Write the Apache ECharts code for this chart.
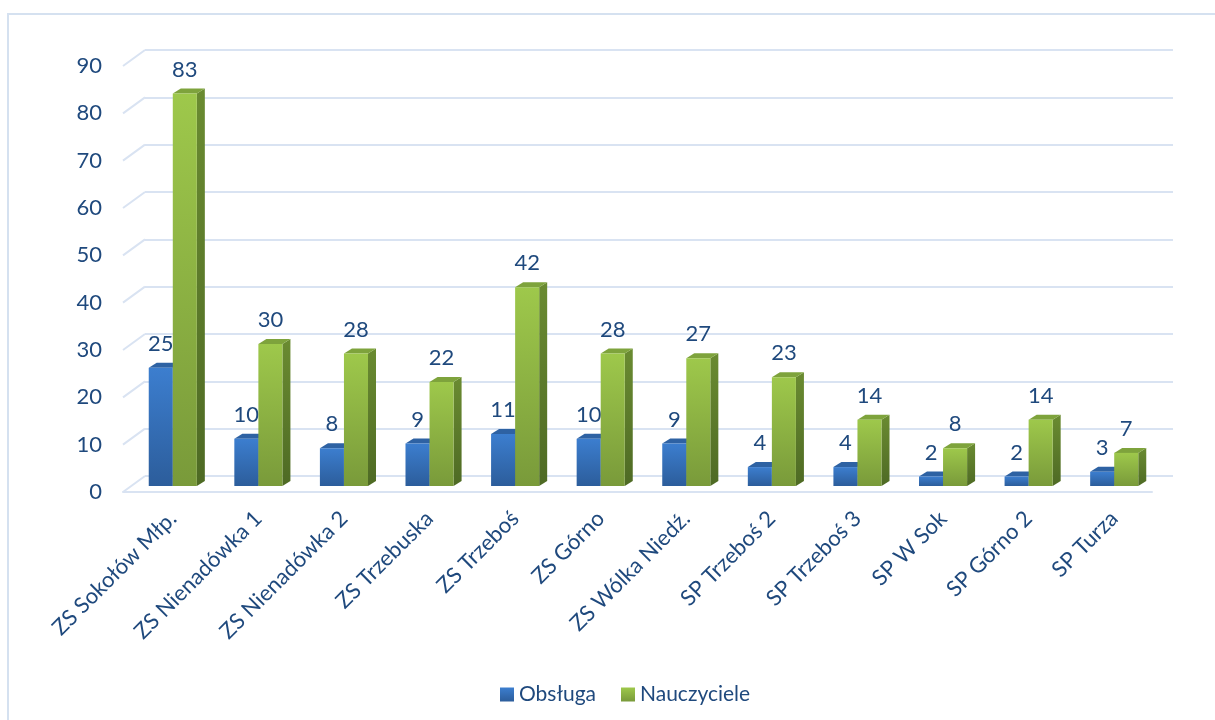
<!DOCTYPE html>
<html><head><meta charset="utf-8">
<script src="https://cdn.jsdelivr.net/npm/echarts@6/dist/echarts.min.js"></script>
<style>html,body{margin:0;padding:0;background:#fff}#c{width:1215px;height:720px}</style>
</head><body><div id="c"></div>
<script>
const categories = ['ZS Sokołów Młp.', 'ZS Nienadówka 1', 'ZS Nienadówka 2', 'ZS Trzebuska', 'ZS Trzeboś', 'ZS Górno', 'ZS Wólka Niedź.', 'SP Trzeboś 2', 'SP Trzeboś 3', 'SP W Sok', 'SP Górno 2', 'SP Turza'];
const obsluga = [25, 10, 8, 9, 11, 10, 9, 4, 4, 2, 2, 3];
const nauczyciele = [83, 30, 28, 22, 42, 28, 27, 23, 14, 8, 14, 7];
const seriesNames = ['Obsługa', 'Nauczyciele'];
const yTicks = [0, 10, 20, 30, 40, 50, 60, 70, 80, 90];

const FONT = 'Lato';
const TXT = '#1F497D';
const GRIDC = '#D9E3F2';
const DX = 8, DY = -5;     // bar depth
const WX = 22, WY = -16;   // wall depth
const LG = echarts.graphic.LinearGradient;

const bluePal = {
  front: new LG(0, 0, 0, 1, [{offset: 0, color: '#3C7ECF'}, {offset: 1, color: '#2C5D9B'}]),
  top: '#2E62A3',
  side: new LG(0, 0, 0, 1, [{offset: 0, color: '#2A5894'}, {offset: 1, color: '#1F4272'}]),
  legend: new LG(0, 0, 0, 1, [{offset: 0, color: '#3C7ECF'}, {offset: 1, color: '#2C5D9B'}])
};
const greenPal = {
  front: new LG(0, 0, 0, 1, [{offset: 0, color: '#9EC84B'}, {offset: 1, color: '#799A3A'}]),
  top: '#7EA33C',
  side: new LG(0, 0, 0, 1, [{offset: 0, color: '#6A8B31'}, {offset: 1, color: '#4E6A24'}]),
  legend: new LG(0, 0, 0, 1, [{offset: 0, color: '#9EC84B'}, {offset: 1, color: '#799A3A'}])
};

function bar3d(side, pal) {
  return function (params, api) {
    const idx = api.value(0), val = api.value(1);
    const base = api.coord([idx, 0]);
    const top = api.coord([idx, val]);
    const bw = api.size([1, 0])[0] * 0.281;
    const x0 = side === 0 ? base[0] - bw : base[0];
    const x1 = x0 + bw;
    const y0 = base[1], y1 = top[1];
    return {
      type: 'group', children: [
        {type: 'polygon', shape: {points: [[x1, y1], [x1 + DX, y1 + DY], [x1 + DX, y0 + DY], [x1, y0]]}, style: {fill: pal.side}},
        {type: 'polygon', shape: {points: [[x0, y1], [x0 + DX, y1 + DY], [x1 + DX, y1 + DY], [x1, y1]]}, style: {fill: pal.top}},
        {type: 'rect', shape: {x: x0, y: y1, width: bw, height: y0 - y1}, style: {fill: pal.front}},
        {type: 'text', style: {text: String(val), x: (x0 + x1) / 2, y: y1 - 24, align: 'center', verticalAlign: 'middle', fontSize: 22, fontFamily: FONT, fill: TXT}}
      ]
    };
  };
}

const chart = echarts.init(document.getElementById('c'));
chart.setOption({
  animation: false,
  backgroundColor: '#fff',
  graphic: [{type: 'rect', silent: true, z: -10, shape: {x: 8, y: 14, width: 1400, height: 900}, style: {fill: 'none', stroke: '#D5E1F0', lineWidth: 2}}],
  grid: [
    {left: 130, right: 58, top: 60.3, bottom: 234},
    {left: 145, right: 42, top: 50, bottom: 244},
    {left: 123, right: 63, top: 66, bottom: 228}
  ],
  xAxis: [
    {type: 'category', gridIndex: 0, data: categories, axisLine: {show: false}, axisTick: {show: false},
      axisLabel: {rotate: 45, margin: 29, fontSize: 22, color: TXT, fontFamily: FONT, interval: 0}},
    {type: 'value', gridIndex: 1, min: 0, max: 1, show: false},
    {type: 'value', gridIndex: 2, min: 0, max: 1, axisLine: {show: true, lineStyle: {color: GRIDC, width: 2}},
      axisTick: {show: false}, axisLabel: {show: false}, splitLine: {show: false}}
  ],
  yAxis: [
    {type: 'value', gridIndex: 0, min: 0, max: 90, interval: 10, show: false},
    {type: 'value', gridIndex: 1, min: 0, max: 90, interval: 10, axisLine: {show: false}, axisTick: {show: false},
      axisLabel: {show: false}, splitLine: {lineStyle: {color: GRIDC, width: 2}}},
    {type: 'value', gridIndex: 2, min: 0, max: 90, interval: 10, axisLine: {show: false}, axisTick: {show: false},
      splitLine: {show: false}, axisLabel: {margin: 21, fontSize: 22, color: TXT, fontFamily: FONT}}
  ],
  legend: {
    left: 495, top: 679, itemWidth: 14, itemHeight: 14, itemGap: 25, icon: 'rect',
    textStyle: {fontSize: 21, color: TXT, fontFamily: FONT},
    data: seriesNames
  },
  series: [
    {
      type: 'custom', name: 'walls', xAxisIndex: 2, yAxisIndex: 2, silent: true,
      data: yTicks.map(v => [0, v]),
      renderItem: function (params, api) {
        const p = api.coord([0, api.value(1)]);
        return {type: 'line', shape: {x1: p[0], y1: p[1], x2: p[0] + WX, y2: p[1] + WY}, style: {stroke: GRIDC, lineWidth: 2}};
      }
    },
    {
      type: 'custom', name: seriesNames[0], xAxisIndex: 0, yAxisIndex: 0,
      itemStyle: {color: bluePal.legend},
      data: obsluga.map((v, i) => [i, v]), encode: {x: 0, y: 1},
      renderItem: bar3d(0, bluePal)
    },
    {
      type: 'custom', name: seriesNames[1], xAxisIndex: 0, yAxisIndex: 0,
      itemStyle: {color: greenPal.legend},
      data: nauczyciele.map((v, i) => [i, v]), encode: {x: 0, y: 1},
      renderItem: bar3d(1, greenPal)
    }
  ]
});
</script>
</body></html>
